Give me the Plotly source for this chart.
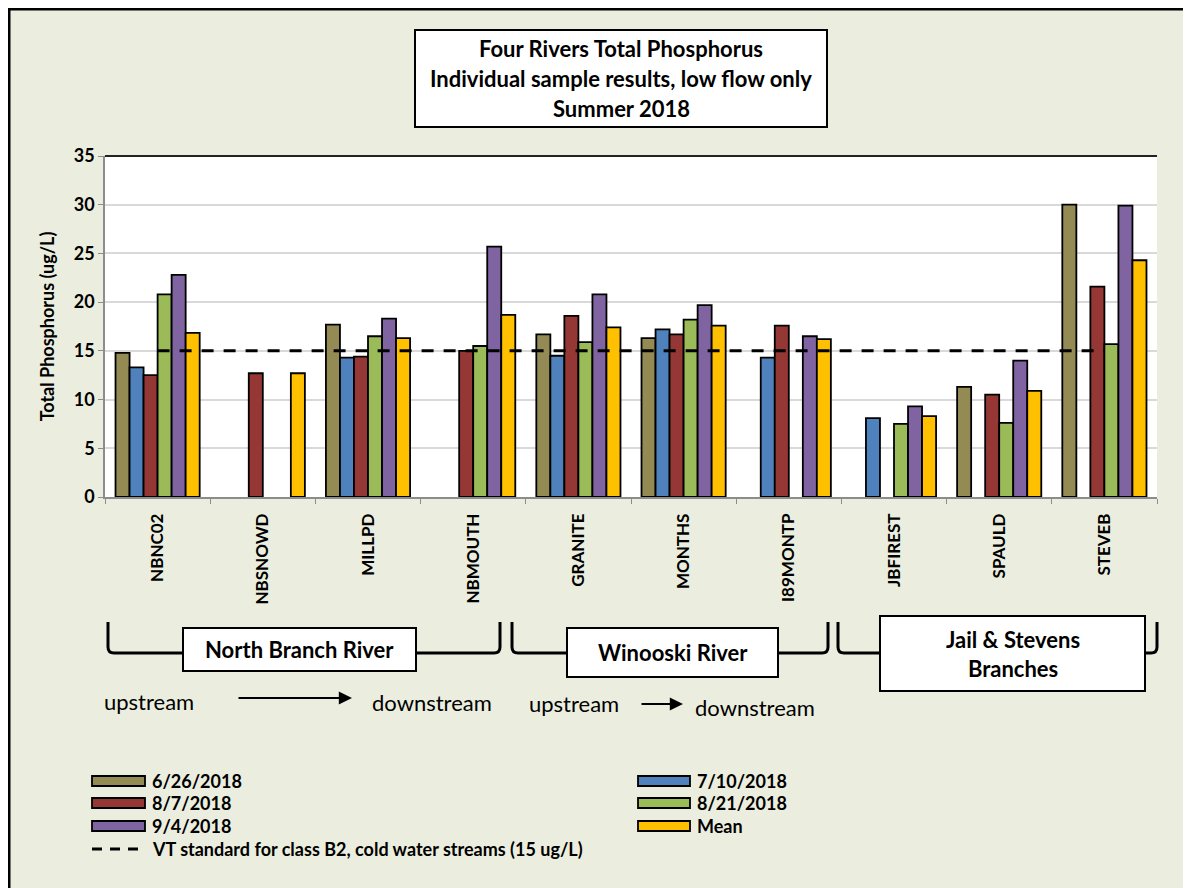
import plotly.graph_objects as go

# ---------------- data ----------------
sites = ["NBNC02", "NBSNOWD", "MILLPD", "NBMOUTH", "GRANITE",
         "MONTHS", "I89MONTP", "JBFIREST", "SPAULD", "STEVEB"]

series_names = ["6/26/2018", "7/10/2018", "8/7/2018", "8/21/2018", "9/4/2018", "Mean"]

tp_0626 = [14.8, None, 17.7, None, 16.7, 16.3, None, None, 11.3, 30.0]
tp_0710 = [13.3, None, 14.3, None, 14.5, 17.2, 14.3, 8.1, None, None]
tp_0807 = [12.5, 12.7, 14.4, 15.0, 18.6, 16.7, 17.6, None, 10.5, 21.6]
tp_0821 = [20.8, None, 16.5, 15.5, 15.9, 18.2, None, 7.5, 7.6, 15.7]
tp_0904 = [22.8, None, 18.3, 25.7, 20.8, 19.7, 16.5, 9.3, 14.0, 29.9]
tp_mean = [16.85, 12.7, 16.3, 18.7, 17.4, 17.6, 16.2, 8.3, 10.9, 24.3]

standard_name = "VT standard for class B2, cold water streams (15 ug/L)"
standard_value = 15

title_lines = ["Four Rivers Total Phosphorus",
               "Individual sample results, low flow only",
               "Summer 2018"]
y_title = "Total Phosphorus (ug/L)"
y_ticks = [0, 5, 10, 15, 20, 25, 30, 35]

# ---------------- styling ----------------
colors = ["#948A54", "#4F81BD", "#953735", "#9BBB59", "#8064A2", "#FFC000"]
BG = "#EBEEDE"
FONT = "Lato"

OFF = 8  # page body margin
W, H = 1191 - OFF, 888 - OFF
PL, PR, PT, PB = 105, 1157, 156, 497  # plot area in window pixels


def px(x):
    return (x - PL) / (PR - PL)


def py(y):
    return (PB - y) / (PB - PT)


fig = go.Figure()
all_values = [tp_0626, tp_0710, tp_0807, tp_0821, tp_0904, tp_mean]
for name, vals, col in zip(series_names, all_values, colors):
    fig.add_trace(go.Bar(
        x=sites, y=vals, name=name, marker_color=col,
        marker_line=dict(color="black", width=1.8), showlegend=False))

fig.add_trace(go.Scatter(
    x=sites, y=[standard_value] * len(sites), mode="lines",
    name=standard_name, line=dict(color="black", width=3, dash="12px,10px"),
    showlegend=False))

shapes = []
annotations = []

# outer frame
shapes.append(dict(type="rect", xref="paper", yref="paper",
                   x0=px(9), x1=px(1300), y0=py(1000), y1=py(9),
                   line=dict(color="black", width=3), layer="below"))
# top border of plot area
shapes.append(dict(type="line", xref="paper", yref="paper",
                   x0=0, x1=1, y0=1, y1=1, line=dict(color="#222", width=2)))

# title box
shapes.append(dict(type="rect", xref="paper", yref="paper",
                   x0=px(415), x1=px(827), y0=py(127), y1=py(30),
                   line=dict(color="black", width=2), fillcolor="white"))
for i, t in enumerate(title_lines):
    annotations.append(dict(xref="paper", yref="paper", x=px(621), y=py(48 + 30.5 * i),
                            text=t, showarrow=False, xanchor="center", yanchor="middle",
                            font=dict(family=FONT, size=22, color="black", weight="bold")))


# brackets
def bracket(x0, x1, ytop=622, ybot=653, r=6):
    path = (f"M {px(x0)},{py(ytop)} L {px(x0)},{py(ybot - r)} "
            f"Q {px(x0)},{py(ybot)} {px(x0 + r)},{py(ybot)} "
            f"L {px(x1 - r)},{py(ybot)} Q {px(x1)},{py(ybot)} {px(x1)},{py(ybot - r)} "
            f"L {px(x1)},{py(ytop)}")
    return dict(type="path", xref="paper", yref="paper", path=path,
                line=dict(color="black", width=3))


shapes += [bracket(108, 500), bracket(512, 828), bracket(838, 1157)]

groups = [
    ("North Branch River", 183, 416, 628, 671),
    ("Winooski River", 567, 778, 628, 677),
    ("Jail & Stevens<br>Branches", 880, 1145, 616, 691),
]
for text, x0, x1, y0, y1 in groups:
    shapes.append(dict(type="rect", xref="paper", yref="paper",
                       x0=px(x0), x1=px(x1), y0=py(y1), y1=py(y0),
                       line=dict(color="black", width=2), fillcolor="white"))
    annotations.append(dict(xref="paper", yref="paper", x=px((x0 + x1) / 2),
                            y=py((y0 + y1) / 2), text=text, showarrow=False,
                            xanchor="center", yanchor="middle",
                            font=dict(family=FONT, size=22, color="black", weight="bold")))

# upstream / downstream
flow = [
    (102, 701, 237, 352, 698, 370, 702),
    (527, 703, 640, 683, 704, 693, 707),
]
for ux, uy, a0, a1, ay_, dx, dy in flow:
    annotations.append(dict(xref="paper", yref="paper", x=px(ux), y=py(uy),
                            text="upstream", showarrow=False, xanchor="left",
                            yanchor="middle",
                            font=dict(family=FONT, size=22, color="black")))
    annotations.append(dict(xref="paper", yref="paper", x=px(dx), y=py(dy),
                            text="downstream", showarrow=False, xanchor="left",
                            yanchor="middle",
                            font=dict(family=FONT, size=22, color="black")))
    annotations.append(dict(xref="paper", yref="paper", x=px(a1), y=py(ay_),
                            axref="pixel", ayref="pixel", ax=-(a1 - a0), ay=0,
                            text="", showarrow=True, arrowhead=2, arrowsize=1.2,
                            arrowwidth=2.2, arrowcolor="black"))

# legend (manual)
legend_rows = [781, 803, 826, 849]
legend_cols = [(92, 145, 150), (638, 690, 695)]
for i, (name, col) in enumerate(zip(series_names, colors)):
    r, c = divmod(i, 2)
    s0, s1, tx = legend_cols[c]
    yc = legend_rows[r]
    shapes.append(dict(type="rect", xref="paper", yref="paper",
                       x0=px(s0), x1=px(s1), y0=py(yc + 5), y1=py(yc - 5),
                       fillcolor=col, line=dict(color="black", width=1.8)))
    annotations.append(dict(xref="paper", yref="paper", x=px(tx), y=py(yc),
                            text=name, showarrow=False, xanchor="left", yanchor="middle",
                            font=dict(family=FONT, size=18, color="black", weight="bold")))
shapes.append(dict(type="line", xref="paper", yref="paper",
                   x0=px(92), x1=px(145), y0=py(legend_rows[3]), y1=py(legend_rows[3]),
                   line=dict(color="black", width=3, dash="10px,8px")))
annotations.append(dict(xref="paper", yref="paper", x=px(150), y=py(legend_rows[3]),
                        text=standard_name, showarrow=False, xanchor="left",
                        yanchor="middle",
                        font=dict(family=FONT, size=18, color="black", weight="bold")))

fig.update_layout(
    width=W, height=H,
    margin=dict(l=PL - OFF, r=W - (PR - OFF), t=PT - OFF, b=H - (PB - OFF), pad=0),
    paper_bgcolor=BG, plot_bgcolor="white",
    barmode="group", bargap=0.2, bargroupgap=0,
    showlegend=False,
    shapes=shapes, annotations=annotations,
    font=dict(family=FONT, color="black"),
)
fig.update_yaxes(
    range=[0, 35], tickvals=y_ticks, showgrid=True, gridcolor="#D9D9D9", gridwidth=1.5,
    showline=True, linecolor="#8C8C8C", linewidth=1.5, ticks="outside", ticklen=5,
    tickcolor="#8C8C8C", tickfont=dict(family=FONT, size=18, color="black", weight="bold"),
    title=dict(text=y_title, standoff=14,
               font=dict(family=FONT, size=18, color="black", weight="bold")),
    zeroline=False,
)
fig.update_xaxes(
    showline=True, linecolor="#8C8C8C", linewidth=1.5, ticks="outside", ticklen=5,
    tickcolor="#8C8C8C", tickson="boundaries", tickangle=-90,
    tickfont=dict(family=FONT, size=17, color="black", weight="bold"),
    ticklabelstandoff=8,
)

fig.write_html("out.html")
